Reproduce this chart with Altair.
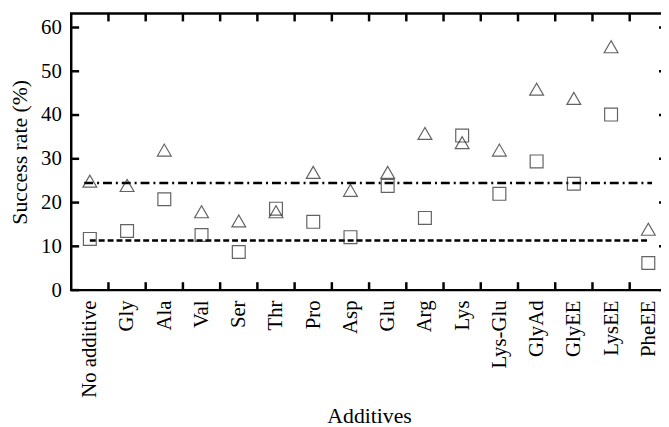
import altair as alt
import pandas as pd

categories = ["No additive", "Gly", "Ala", "Val", "Ser", "Thr", "Pro", "Asp",
              "Glu", "Arg", "Lys", "Lys-Glu", "GlyAd", "GlyEE", "LysEE", "PheEE"]
triangle_vals = [24.9, 23.9, 32.0, 17.9, 15.8, 17.9, 26.9, 22.8,
                 26.9, 35.8, 33.7, 32.0, 45.9, 43.8, 55.6, 13.9]
square_vals = [11.7, 13.5, 20.75, 12.6, 8.7, 18.6, 15.6, 12.1,
               23.8, 16.5, 35.3, 22.0, 29.4, 24.3, 40.1, 6.2]
ref_levels = [24.45, 11.35]
ref_start = [-0.15, 0.0]
ref_end = [15.1, 15.0]
ref_dash = [[9, 4, 2, 4], [6, 3]]
y_ticks = [0, 10, 20, 30, 40, 50, 60]
y_max = 63.2

W, H = 603, 280
FONT = "Liberation Serif"
TICK_LEN = 8

idx = list(range(len(categories)))
x_lo, x_hi = -0.5, len(categories) - 0.5
boundaries = [i + 0.5 for i in idx[:-1]]

tri_df = pd.DataFrame({"idx": idx, "val": triangle_vals})
sq_df = pd.DataFrame({"idx": idx, "val": square_vals})


def xs():
    return alt.Scale(domain=[x_lo, x_hi], nice=False, zero=False)


def ys():
    return alt.Scale(domain=[0, y_max], nice=False, zero=True)


label_array = "[" + ",".join("'" + c + "'" for c in categories) + "]"

tri = alt.Chart(tri_df).mark_point(
    shape="triangle-up", filled=False, size=196, color="#222", strokeWidth=1.2
).encode(
    x=alt.X("idx:Q", scale=xs(), axis=alt.Axis(
        orient="bottom", values=idx, labelExpr=label_array + "[datum.value]",
        labelAngle=-90, labelPadding=10, ticks=False, tickSize=0, domain=False,
        title="Additives", titlePadding=8, grid=False)),
    y=alt.Y("val:Q", scale=ys(), axis=alt.Axis(
        orient="left", values=y_ticks, labelPadding=10, ticks=False, tickSize=0,
        domain=False, title="Success rate (%)", titlePadding=9, grid=False)),
)

sq = alt.Chart(sq_df).mark_point(
    shape="square", filled=False, size=169, color="#222", strokeWidth=1.2
).encode(
    x=alt.X("idx:Q", scale=xs(), axis=None),
    y=alt.Y("val:Q", scale=ys(), axis=None),
)

rule_layers = []
for k in range(len(ref_levels)):
    rdf = pd.DataFrame({"x0": [ref_start[k]], "x1": [ref_end[k]], "lvl": [ref_levels[k]]})
    r = alt.Chart(rdf).mark_rule(
        color="black", strokeWidth=2.5, strokeDash=ref_dash[k]
    ).encode(
        x=alt.X("x0:Q", scale=xs(), axis=None),
        x2="x1:Q",
        y=alt.Y("lvl:Q", scale=ys(), axis=None),
    )
    rule_layers.append(r)

# inward frame ticks
tick_layers = []
for yv, off in [(0, -TICK_LEN / 2), (y_max, TICK_LEN / 2)]:
    tdf = pd.DataFrame({"b": boundaries, "yy": [yv] * len(boundaries)})
    tick_layers.append(alt.Chart(tdf).mark_tick(
        orient="vertical", size=TICK_LEN, thickness=2.5, color="black",
        yOffset=off, opacity=1
    ).encode(
        x=alt.X("b:Q", scale=xs(), axis=None),
        y=alt.Y("yy:Q", scale=ys(), axis=None),
    ))
for xv, off in [(x_lo, TICK_LEN / 2), (x_hi, -TICK_LEN / 2)]:
    tdf = pd.DataFrame({"xx": [xv] * len(y_ticks), "t": y_ticks})
    tick_layers.append(alt.Chart(tdf).mark_tick(
        orient="horizontal", size=TICK_LEN, thickness=2.5, color="black",
        xOffset=off, opacity=1
    ).encode(
        x=alt.X("xx:Q", scale=xs(), axis=None),
        y=alt.Y("t:Q", scale=ys(), axis=None),
    ))

chart = alt.layer(*tick_layers, *rule_layers, sq, tri).resolve_scale(
    x="independent", y="independent"
).resolve_axis(
    x="independent", y="independent"
).properties(
    width=W, height=H,
    autosize=alt.AutoSizeParams(type="none"),
    padding={"left": 64, "top": 3, "right": -6, "bottom": 136},
).configure_view(
    stroke="black", strokeWidth=2.5
).configure_axis(
    labelFont=FONT, labelFontSize=21, labelColor="black",
    titleFont=FONT, titleFontSize=22, titleFontWeight="normal", titleColor="black",
)

chart.save("out.html", embed_options={"renderer": "svg", "actions": False})
